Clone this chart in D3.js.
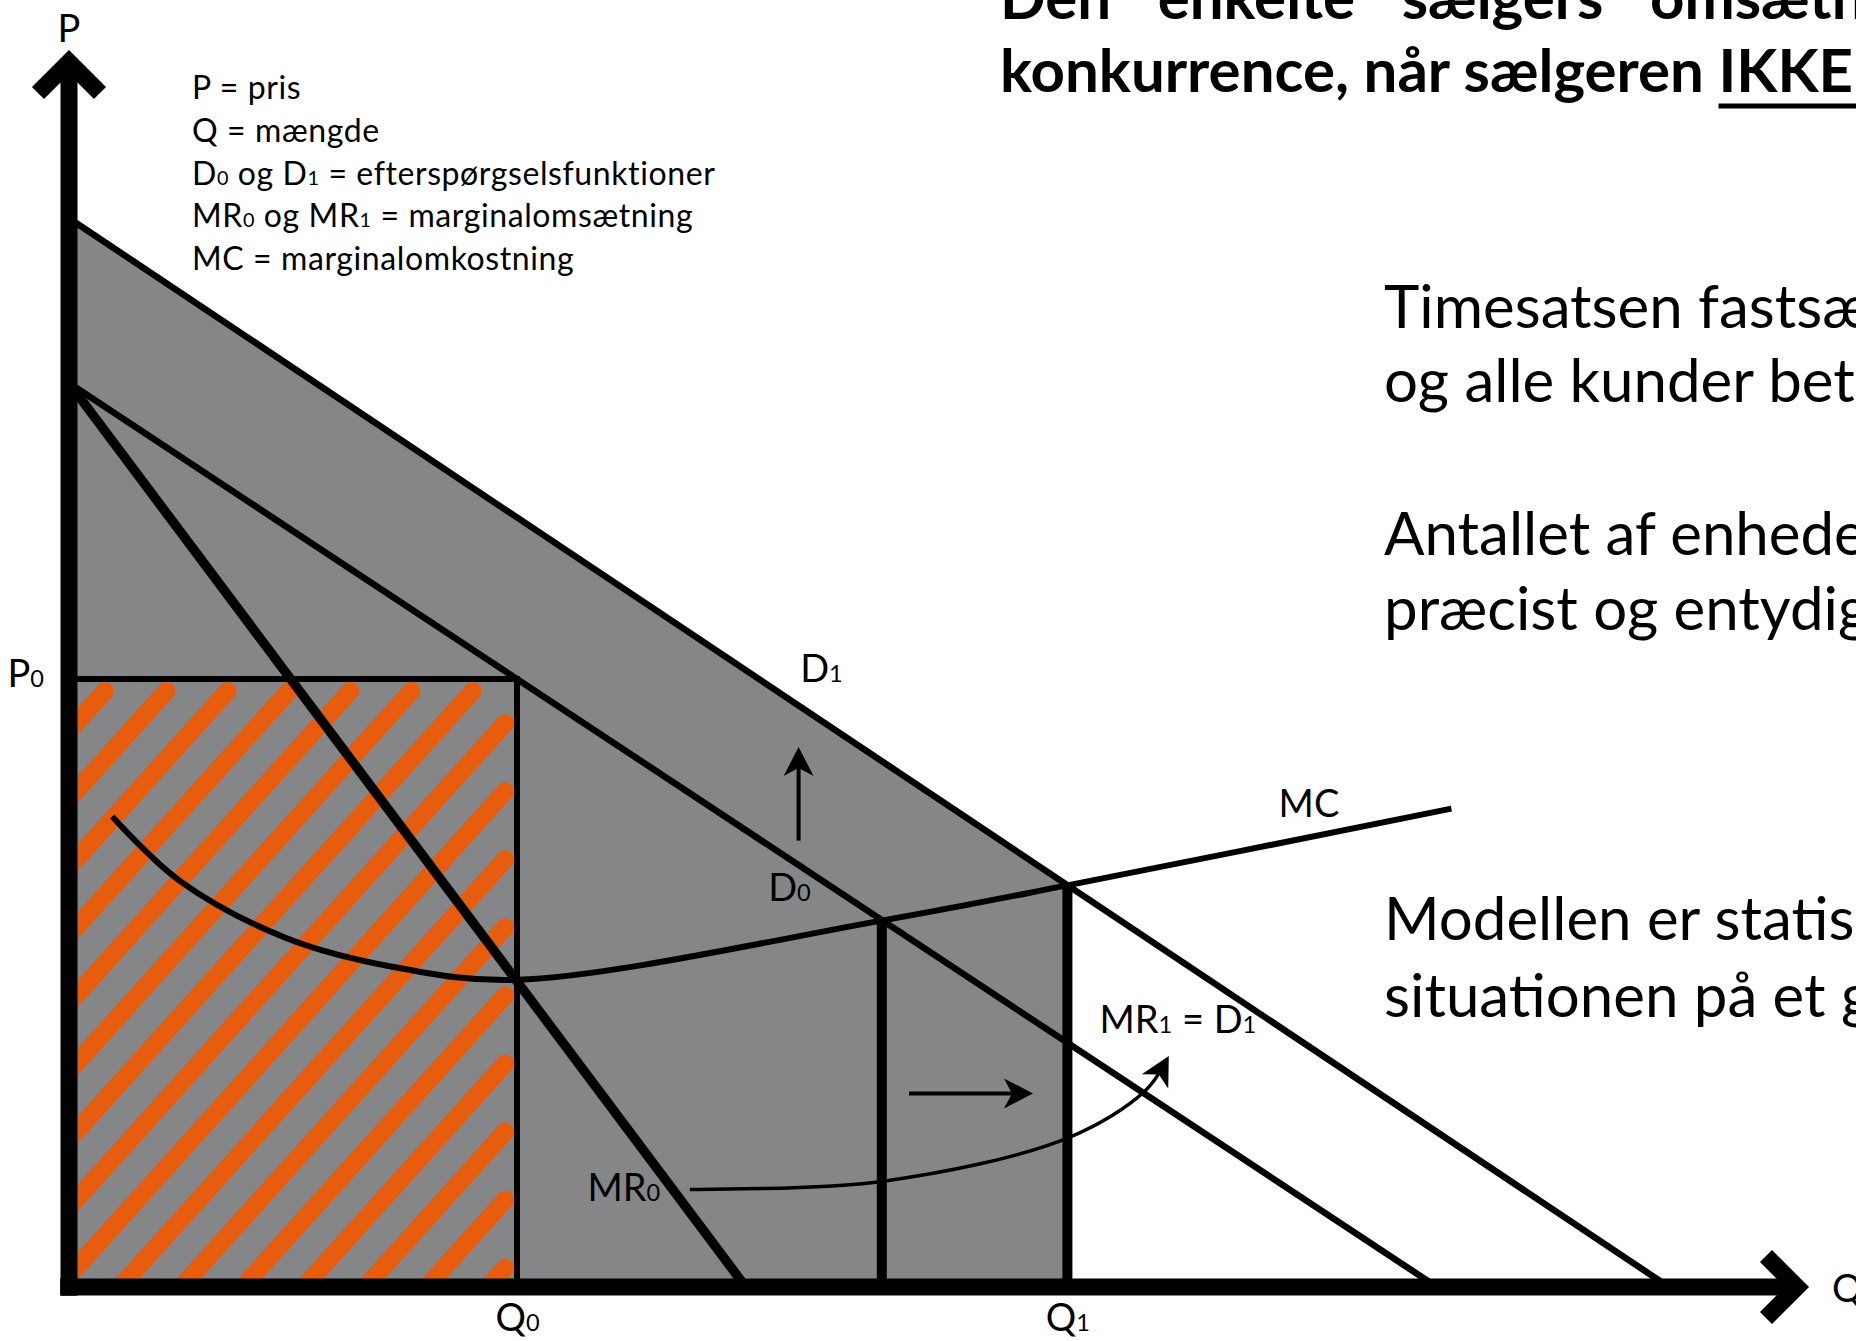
<!DOCTYPE html>
<html>
<head>
<meta charset="utf-8">
<script src="https://cdn.jsdelivr.net/npm/d3@7"></script>
<style>
  body { margin: 0; background: #fff; }
  svg { display: block; }
  text { font-family: Lato, "Open Sans", sans-serif; fill: #000; white-space: pre; }
</style>
</head>
<body>
<div id="chart"></div>
<script>
// ---- DATA (model units: Q = quantity, P = price) ----
const qTicks = [28, 62.4];              // Q0, Q1
const qTickLabels = ["Q_0", "Q_1"];
const pTicks = [38];                    // P0
const pTickLabels = ["P_0"];
const qMid = 50.8;                      // where D0 meets MC
const pMid = 22.9;
const pQ1 = 25.1;                       // where D1 meets MC

const demand0 = [[0, 56.5], [85.5, 0]];
const demand1 = [[0, 66.8], [100, 0]];
const margRev0 = [[0, 56.5], [42.3, 0]];
const margCost = [[2.7, 29.4], [6.9, 25.4], [13.6, 21.8], [20.3, 20.0], [28, 19.2],
                  [50.8, 22.9], [62.4, 25.1], [86.4, 29.9]];

const shiftUp = [[45.6, 27.9], [45.6, 33.25]];
const shiftRight = [[52.5, 12.1], [59.75, 12.1]];
const curveArrow = [[38.8, 6.1], [50.8, 6.6], [62.4, 9.3], [67.2, 12.2], [68.5, 14.0]];

const legendLines = [
  "P = pris",
  "Q = mængde",
  "D_0 og D_1 = efterspørgselsfunktioner",
  "MR_0 og MR_1 = marginalomsætning",
  "MC = marginalomkostning"
];
const titleLines = ["Den enkelte sælgers omsætning", "konkurrence, når sælgeren "];
const titleUnderlined = "IKKE";
const sideText = [
  "Timesatsen fastsættes", "og alle kunder betaler",
  "Antallet af enheder", "præcist og entydigt",
  "Modellen er statisk", "situationen på et givet"
];
const sideBaselines = [328, 402, 555, 630, 940, 1017];

// ---- CONSTANTS ----
const width = 1856, height = 1341;
const unit = 16, originX = 69, originY = 1287;
const gray = "#858688", orange = "#e85c0d";

const xScale = d3.scaleLinear().domain([0, 108]).range([originX, originX + 108 * unit]);
const yScale = d3.scaleLinear().domain([0, 77]).range([originY, originY - 77 * unit]);
const line = d3.line().x(d => xScale(d[0])).y(d => yScale(d[1]));

const svg = d3.select("#chart").append("svg")
  .attr("width", width).attr("height", height);

// subscript helper: "D_0" -> D + small 0
function rich(sel, str) {
  str.split(/_(\d)/).forEach((p, i) => {
    if (!p) return;
    sel.append("tspan").style("font-size", i % 2 ? "0.62em" : null).text(p);
  });
  return sel;
}

// arrowhead marker
svg.append("defs").append("marker")
  .attr("id", "head")
  .attr("markerUnits", "userSpaceOnUse")
  .attr("viewBox", "-22 -17 32 34")
  .attr("markerWidth", 32).attr("markerHeight", 34)
  .attr("refX", 0).attr("refY", 0)
  .attr("orient", "auto")
  .append("path")
  .attr("d", "M8,0 L-21,-15 L-13,0 L-21,15 Z")
  .attr("fill", "#000");

// ---- gray revenue area under D1 up to Q1 ----
svg.append("path")
  .attr("d", line([[0, demand1[0][1]], [qTicks[1], pQ1], [qTicks[1], 0], [0, 0]]) + "Z")
  .attr("fill", gray);

// ---- orange hatching in P0 x Q0 rectangle ----
const L = xScale(0), R = xScale(qTicks[0]), T = yScale(pTicks[0]), B = yScale(0);
svg.append("clipPath").attr("id", "rectClip")
  .append("rect").attr("x", L).attr("y", T).attr("width", R - L).attr("height", B - T);

const cot = 0.9004, period = 61.3, hw = 9;
const topIn = T + 3 + hw, rightIn = R - 3 - hw;
const stripes = [];
for (let c = 727 - period * 20; c < R + cot * B + 40; c += period) {
  let ys = topIn;
  if (c - cot * ys > rightIn) ys = (c - rightIn) / cot;
  let ye = Math.min(B + 30, (c - (L - 30)) / cot);
  if (ys < ye) stripes.push([[c - cot * ys, ys], [c - cot * ye, ye]]);
}
svg.append("g").attr("clip-path", "url(#rectClip)")
  .selectAll("line").data(stripes).join("line")
  .attr("x1", d => d[0][0]).attr("y1", d => d[0][1])
  .attr("x2", d => d[1][0]).attr("y2", d => d[1][1])
  .attr("stroke", orange).attr("stroke-width", hw * 2)
  .attr("stroke-linecap", "round");

// ---- P0 / Q0 guide lines ----
svg.append("path")
  .attr("d", line([[0, pTicks[0]], [qTicks[0], pTicks[0]], [qTicks[0], 0]]))
  .attr("fill", "none").attr("stroke", "#000").attr("stroke-width", 6);

// ---- curves ----
const curves = [
  { pts: demand1, w: 6.5 },
  { pts: demand0, w: 6.5 },
  { pts: margRev0, w: 9.5 }
];
svg.selectAll("path.curve").data(curves).join("path")
  .attr("class", "curve")
  .attr("d", d => line(d.pts))
  .attr("fill", "none").attr("stroke", "#000").attr("stroke-width", d => d.w);

svg.append("path")
  .attr("d", line.curve(d3.curveCatmullRom)(margCost))
  .attr("fill", "none").attr("stroke", "#000").attr("stroke-width", 6);
line.curve(d3.curveLinear);

// ---- verticals at qMid and Q1 ----
svg.selectAll("path.drop").data([[qMid, pMid], [qTicks[1], pQ1]]).join("path")
  .attr("class", "drop")
  .attr("d", d => line([[d[0], d[1]], [d[0], 0]]))
  .attr("stroke", "#000").attr("stroke-width", 10);

// ---- shift arrows ----
[shiftUp, shiftRight].forEach(a => {
  svg.append("path").attr("d", line(a))
    .attr("fill", "none").attr("stroke", "#000").attr("stroke-width", 4)
    .attr("marker-end", "url(#head)");
});
svg.append("path")
  .attr("d", d3.line().x(d => xScale(d[0])).y(d => yScale(d[1])).curve(d3.curveCatmullRom)(curveArrow))
  .attr("fill", "none").attr("stroke", "#000").attr("stroke-width", 3.5)
  .attr("marker-end", "url(#head)");

// ---- axes ----
const axW = 17, wing = 31;
const yTip = yScale(76.56), xTip = xScale(108);
svg.append("path")
  .attr("d", line([[0, -0.55], [0, 76.56]]))
  .attr("stroke", "#000").attr("stroke-width", axW);
svg.append("path")
  .attr("d", line([[-0.55, 0], [108, 0]]))
  .attr("stroke", "#000").attr("stroke-width", axW);
svg.append("path")
  .attr("d", `M${originX - wing},${yTip + wing}L${originX},${yTip}L${originX + wing},${yTip + wing}`)
  .attr("fill", "none").attr("stroke", "#000").attr("stroke-width", axW).attr("stroke-linejoin", "miter");
svg.append("path")
  .attr("d", `M${xTip - wing},${originY - wing}L${xTip},${originY}L${xTip - wing},${originY + wing}`)
  .attr("fill", "none").attr("stroke", "#000").attr("stroke-width", axW).attr("stroke-linejoin", "miter");

// tick labels through d3 axes
const xAxis = svg.append("g").attr("transform", `translate(0,${originY})`)
  .call(d3.axisBottom(xScale).tickValues(qTicks).tickSize(0).tickFormat(""));
xAxis.select(".domain").remove();
xAxis.selectAll(".tick text")
  .attr("y", 44).attr("dy", null)
  .style("font-size", "38px").attr("font-family", null)
  .each(function (d, i) { rich(d3.select(this), qTickLabels[i]); });

const yAxis = svg.append("g").attr("transform", `translate(${originX},0)`)
  .call(d3.axisLeft(yScale).tickValues(pTicks).tickSize(0).tickFormat(""));
yAxis.select(".domain").remove();
yAxis.selectAll(".tick text")
  .attr("x", -25).attr("dy", "0.2em")
  .style("font-size", "38px").attr("font-family", null)
  .each(function (d, i) { rich(d3.select(this), pTickLabels[i]); });

svg.append("text").attr("x", originX).attr("y", 42).attr("text-anchor", "middle")
  .style("font-size", "38px").text("P");
svg.append("text").attr("x", 1832).attr("y", 1302)
  .style("font-size", "38px").text("Q");

// ---- curve labels ----
const labels = [
  { t: "D_1", q: 45.7, p: 37.8 },
  { t: "D_0", q: 43.7, p: 24.1 },
  { t: "MC", q: 75.6, p: 29.4 },
  { t: "MR_0", q: 32.4, p: 5.4 },
  { t: "MR_1 = D_1", q: 64.4, p: 15.9 }
];
labels.forEach(l => {
  rich(svg.append("text").attr("x", xScale(l.q)).attr("y", yScale(l.p))
    .style("font-size", "38px"), l.t);
});

// ---- legend ----
legendLines.forEach((s, i) => {
  rich(svg.append("text").attr("x", 192).attr("y", 99 + i * 42.8)
    .style("font-size", "32px").style("letter-spacing", "0.6px"), s);
});

// ---- title (cut off at top/right) ----
svg.append("text").attr("x", 1000).attr("y", 19)
  .style("font-size", "60px").style("font-weight", 700).style("word-spacing", "32px")
  .text(titleLines[0]);
const t2 = svg.append("text").attr("x", 1000).attr("y", 92)
  .style("font-size", "60px").style("font-weight", 700);
t2.append("tspan").text(titleLines[1]);
t2.append("tspan").text(titleUnderlined);
const ikkeX = 1000 + t2.select("tspan").node().getComputedTextLength();
svg.append("line").attr("x1", ikkeX).attr("x2", width + 10)
  .attr("y1", 106).attr("y2", 106).attr("stroke", "#000").attr("stroke-width", 5);

// ---- side text ----
sideText.forEach((s, i) => {
  svg.append("text").attr("x", 1384).attr("y", sideBaselines[i])
    .style("font-size", "60px").text(s);
});
</script>
</body>
</html>
